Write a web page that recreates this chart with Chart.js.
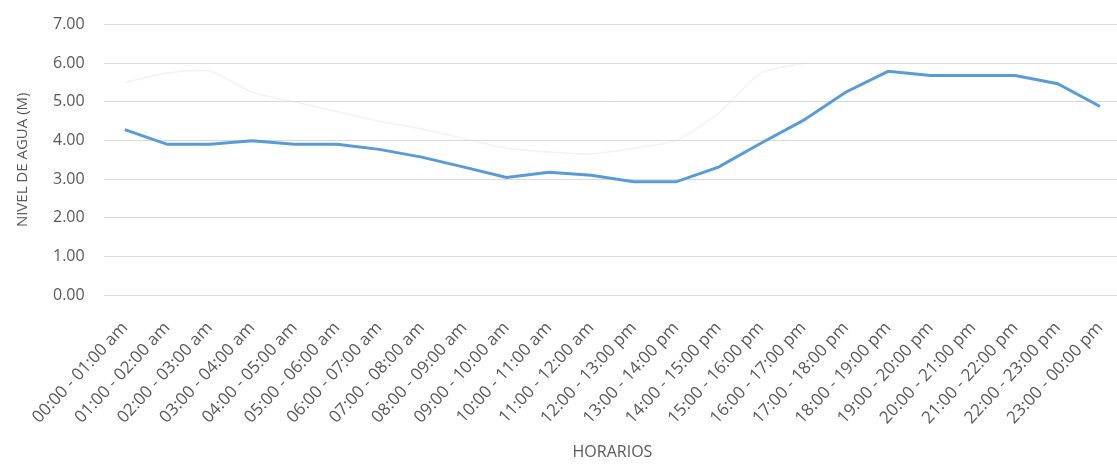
<!DOCTYPE html>
<html>
<head>
<meta charset="utf-8">
<script src="https://cdn.jsdelivr.net/npm/chart.js@4.4.1/dist/chart.umd.min.js"></script>
<style>
    html, body { margin: 0; padding: 0; background: #fff; overflow: hidden; }
    .grafico { position: relative; width: 1130px; height: 468px; margin-top: -4px; }
</style>
</head>
<body>
<div class="grafico"><canvas id="grafico"></canvas></div>
<script>
// horarios del eje x
const horarios = [
    "00:00 - 01:00 am", "01:00 - 02:00 am", "02:00 - 03:00 am", "03:00 - 04:00 am",
    "04:00 - 05:00 am", "05:00 - 06:00 am", "06:00 - 07:00 am", "07:00 - 08:00 am",
    "08:00 - 09:00 am", "09:00 - 10:00 am", "10:00 - 11:00 am", "11:00 - 12:00 am",
    "12:00 - 13:00 pm", "13:00 - 14:00 pm", "14:00 - 15:00 pm", "15:00 - 16:00 pm",
    "16:00 - 17:00 pm", "17:00 - 18:00 pm", "18:00 - 19:00 pm", "19:00 - 20:00 pm",
    "20:00 - 21:00 pm", "21:00 - 22:00 pm", "22:00 - 23:00 pm", "23:00 - 00:00 pm"
];
// nivel de agua (m)
const nivelAgua = [4.28, 3.90, 3.90, 3.99, 3.90, 3.90, 3.77, 3.57, 3.31, 3.04, 3.18, 3.10,
                   2.93, 2.93, 3.31, 3.93, 4.52, 5.25, 5.79, 5.68, 5.68, 5.68, 5.47, 4.88];
// linea tenue de fondo que se ve detras
const lineaFondo = [5.50, 5.75, 5.80, 5.25, 5.00, 4.75, 4.50, 4.30, 4.05, 3.80, 3.70, 3.65,
                    3.80, 4.00, 4.70, 5.75, 6.00, null, null, null, null, null, null, null];
const ticksY = [0, 1, 2, 3, 4, 5, 6, 7];

const gris = "#595959";
const fuente = "'Open Sans', 'Liberation Sans', sans-serif";

const ctx = document.querySelector("#grafico").getContext("2d");
new Chart(ctx, {
    type: "line",
    data: {
        labels: horarios,
        datasets: [{
            data: nivelAgua,
            borderColor: "#5B9BD5",
            borderWidth: 3,
            pointRadius: 0,
            tension: 0,
            order: 0
        }, {
            data: lineaFondo,
            borderColor: "rgba(215, 215, 215, 0.3)",
            borderWidth: 1.5,
            pointRadius: 0,
            tension: 0.2,
            order: 1
        }]
    },
    options: {
        responsive: true,
        maintainAspectRatio: false,
        animation: false,
        layout: { padding: { top: 6, left: 14, right: 1, bottom: 0 } },
        plugins: { legend: { display: false }, tooltip: { enabled: false } },
        scales: {
            x: {
                offset: true,
                afterFit: (eje) => { eje.height = 169; }, // alto fijo del eje x
                grid: { display: false },
                border: { display: false },
                ticks: {
                    color: gris,
                    font: { family: fuente, size: 17 },
                    minRotation: 47,
                    maxRotation: 47,
                    autoSkip: false,
                    padding: 15
                },
                title: {
                    display: true,
                    text: "HORARIOS",
                    color: gris,
                    font: { family: fuente, size: 16 },
                    padding: { top: 0, bottom: 2 }
                }
            },
            y: {
                min: 0,
                max: 7,
                afterBuildTicks: (eje) => { eje.ticks = ticksY.map(v => ({ value: v })); },
                grid: { color: "#d9d9d9", lineWidth: 1, drawTicks: false },
                border: { display: false },
                ticks: {
                    color: gris,
                    font: { family: fuente, size: 16 },
                    padding: 19,
                    callback: (v) => Number(v).toFixed(2)
                },
                title: {
                    display: true,
                    text: "NIVEL DE AGUA (M)",
                    color: gris,
                    font: { family: fuente, size: 15 },
                    padding: { top: 0, bottom: 2 }
                }
            }
        }
    }
});
</script>
</body>
</html>
